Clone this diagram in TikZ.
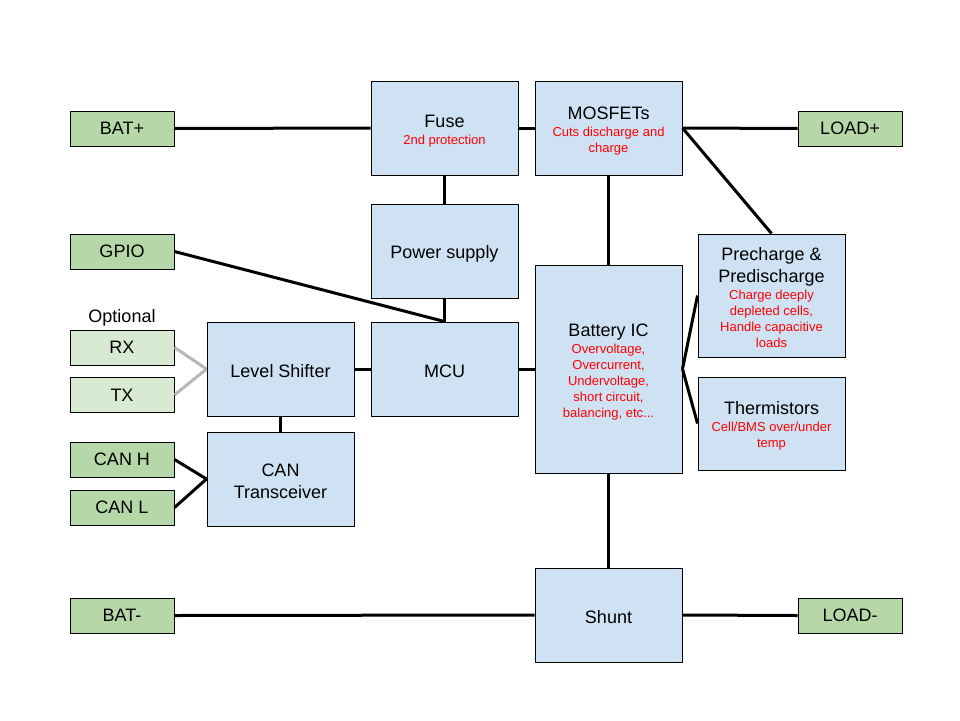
\documentclass[tikz,border=0pt]{standalone}
\usepackage{fontspec}
\setmainfont{Liberation Sans}
\usepackage{tikz}
\usetikzlibrary{calc}
\definecolor{boxblue}{RGB}{207,226,243}
\definecolor{termgreen}{RGB}{182,215,168}
\definecolor{optgreen}{RGB}{217,234,211}
\definecolor{optgray}{RGB}{183,183,183}
\definecolor{subred}{RGB}{255,0,0}
\newcommand{\subtxt}[1]{{\vskip1pt\color{subred}\fontsize{13}{16}\selectfont #1\par}}

\begin{document}
\begin{tikzpicture}[x=1pt, y=-1pt,
  blk/.style={draw=black, line width=1pt, fill=boxblue, text width=141pt, inner xsep=3pt,
    inner ysep=0pt, align=flush center, minimum height=94pt, font=\fontsize{18}{22}\selectfont,
    execute at begin node={\rule{0pt}{18pt}}},
  term/.style={draw=black, line width=1pt, fill=termgreen, minimum width=104pt,
    minimum height=35pt, inner sep=0pt, font=\fontsize{18}{22}\selectfont},
  wire/.style={line width=3pt},
  optwire/.style={line width=3pt, draw=optgray}]
  \fill[white] (0,0) rectangle (960,720);
  \useasboundingbox (0,0) rectangle (960,720);

  % Blocks
  \node[blk] (fuse) at (444.5,128) {Fuse\par\subtxt{2nd protection}};
  \node[blk] (mos) at (608.5,128) {MOSFETs\par\subtxt{Cuts discharge and\\charge}};
  \node[blk] (psu) at (444.5,251) {Power supply};
  \node[blk] (mcu) at (444.5,369) {MCU};
  \node[blk] (ls) at (280.5,369) {Level Shifter};
  \node[blk] (can) at (280.5,479) {CAN\\Transceiver};
  \node[blk, minimum height=208pt] (bic) at (608.5,369)
    {Battery IC\par\subtxt{Overvoltage,\\Overcurrent,\\Undervoltage,\\short circuit,\\balancing, etc...}};
  \node[blk, minimum height=123pt] (pre) at (771.5,295.5)
    {Precharge \&\\Predischarge\par\subtxt{Charge deeply\\depleted cells,\\Handle capacitive\\loads}};
  \node[blk, minimum height=93pt] (therm) at (771.5,423.5)
    {Thermistors\par\subtxt{Cell/BMS over/under\\temp}};
  \node[blk] (shunt) at (608.5,615) {Shunt};

  % Terminals
  \foreach \n/\t/\y in {batp/BAT+/128.5, gpio/GPIO/251.5, canh/CAN H/459.5,
      canl/CAN L/507.5, batm/BAT-/615.5}{
    \node[term] (\n) at (122,\y) {\t};
  }
  \node[term] (loadp) at (850,128.5) {LOAD+};
  \node[term] (loadm) at (850,615.5) {LOAD-};
  \node[term, fill=optgreen] (rx) at (122,347.5) {RX};
  \node[term, fill=optgreen] (tx) at (122,395) {TX};
  \node[font=\fontsize{18}{22}\selectfont] (opt) at (122,318) {Optional};

  % Wiring
  \draw[wire] (batp.east) -- (fuse.west);
  \draw[wire] (fuse.east) -- (mos.west);
  \draw[wire] (mos.east) -- (loadp.west);
  \draw[wire] (mos.east) -- (pre.north);
  \draw[wire] (fuse.south) -- (psu.north);
  \draw[wire] (psu.south) -- (mcu.north);
  \draw[wire] (gpio.east) -- (mcu.north);
  \draw[wire] (mos.south) -- (bic.north);
  \draw[wire] (mcu.east) -- (bic.west);
  \draw[wire] (bic.east) -- (pre.west);
  \draw[wire] (bic.east) -- (therm.west);
  \draw[wire] (ls.east) -- (mcu.west);
  \draw[optwire] (rx.east) -- (ls.west);
  \draw[optwire] (tx.east) -- (ls.west);
  \draw[wire] (ls.south) -- (can.north);
  \draw[wire] (canh.east) -- (can.west);
  \draw[wire] (canl.east) -- (can.west);
  \draw[wire] (bic.south) -- (shunt.north);
  \draw[wire] (batm.east) -- (shunt.west);
  \draw[wire] (shunt.east) -- (loadm.west);
\end{tikzpicture}
\end{document}
